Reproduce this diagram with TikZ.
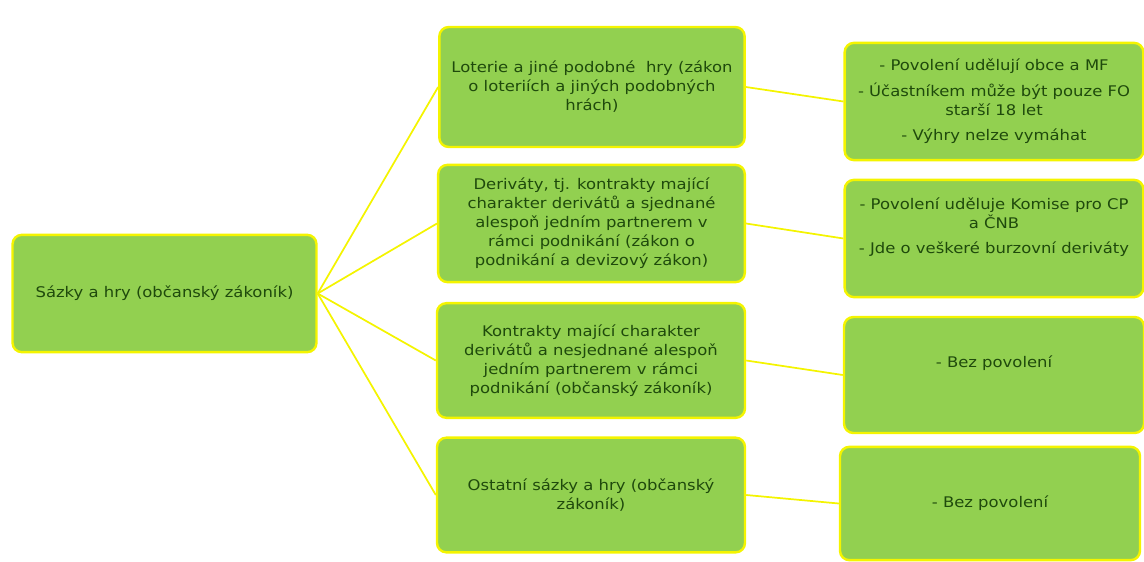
\documentclass[tikz,border=0pt]{standalone}
\usepackage{fontspec}
\setmainfont[FakeStretch=1.12]{DejaVu Sans}
\usepackage{tikz}
\usetikzlibrary{calc}

\definecolor{boxgreen}{HTML}{92D050}
\definecolor{rimyellow}{HTML}{F4F400}
\definecolor{textgreen}{HTML}{1F4A0C}

\tikzset{
  box/.style={draw=rimyellow,line width=1.8pt,fill=boxgreen,rounded corners=7pt,
    align=center,text=textgreen,inner sep=2pt,
    font=\fontsize{11}{14.2}\selectfont},
  link/.style={rimyellow,line width=1.3pt}
}

\begin{document}
\begin{tikzpicture}[x=0.75pt,y=-0.75pt]
            \useasboundingbox (0,0) rectangle (1144,561);  % frame
            
            \node[box,minimum width=228pt,minimum height=88pt] (root) at (164.5,293.5) {Sázky a hry (občanský zákoník)};
            
            \node[box,minimum width=229pt,minimum height=90pt] (A) at (592,87) {Loterie a jiné podobné \ hry (zákon\\o loteriích a jiných podobných\\hrách)};
            \node[box,minimum width=230pt,minimum height=88pt] (B) at (591.5,223.5) {Deriváty, tj. kontrakty mající\\charakter derivátů a sjednané\\alespoň jedním partnerem v\\rámci podnikání (zákon o\\podnikání a devizový zákon)};
            \node[box,minimum width=231pt,minimum height=86pt] (C) at (591,360.5) {Kontrakty mající charakter\\derivátů a nesjednané alespoň\\jedním partnerem v rámci\\podnikání (občanský zákoník)};
            \node[box,minimum width=231pt,minimum height=86pt] (D) at (591,495) {Ostatní sázky a hry (občanský\\zákoník)};
            
            \node[box,minimum width=224pt,minimum height=88pt] (R1) at (994,101.5) {- Povolení udělují obce a MF\\[5pt]- Účastníkem může být pouze FO\\starší 18 let\\[5pt]- Výhry nelze vymáhat};
            \node[box,minimum width=224pt,minimum height=88pt] (R2) at (994,238.5) {- Povolení uděluje Komise pro CP\\a ČNB\\[5pt]- Jde o veškeré burzovní deriváty\\[5pt]\mbox{}};
            \node[box,minimum width=225pt,minimum height=87pt] (R3) at (994,375) {- Bez povolení\\[6pt]\mbox{}};
            \node[box,minimum width=225pt,minimum height=85pt] (R4) at (990,503.5) {- Bez povolení};
            
            \foreach \m in {A,B,C,D} {
                \draw[link] (root.east) -- (\m.west);
            }
            \foreach \m/\r in {A/R1,B/R2,C/R3,D/R4} {
                \draw[link] (\m.east) -- (\r.west);
            }
        \end{tikzpicture}
\end{document}
